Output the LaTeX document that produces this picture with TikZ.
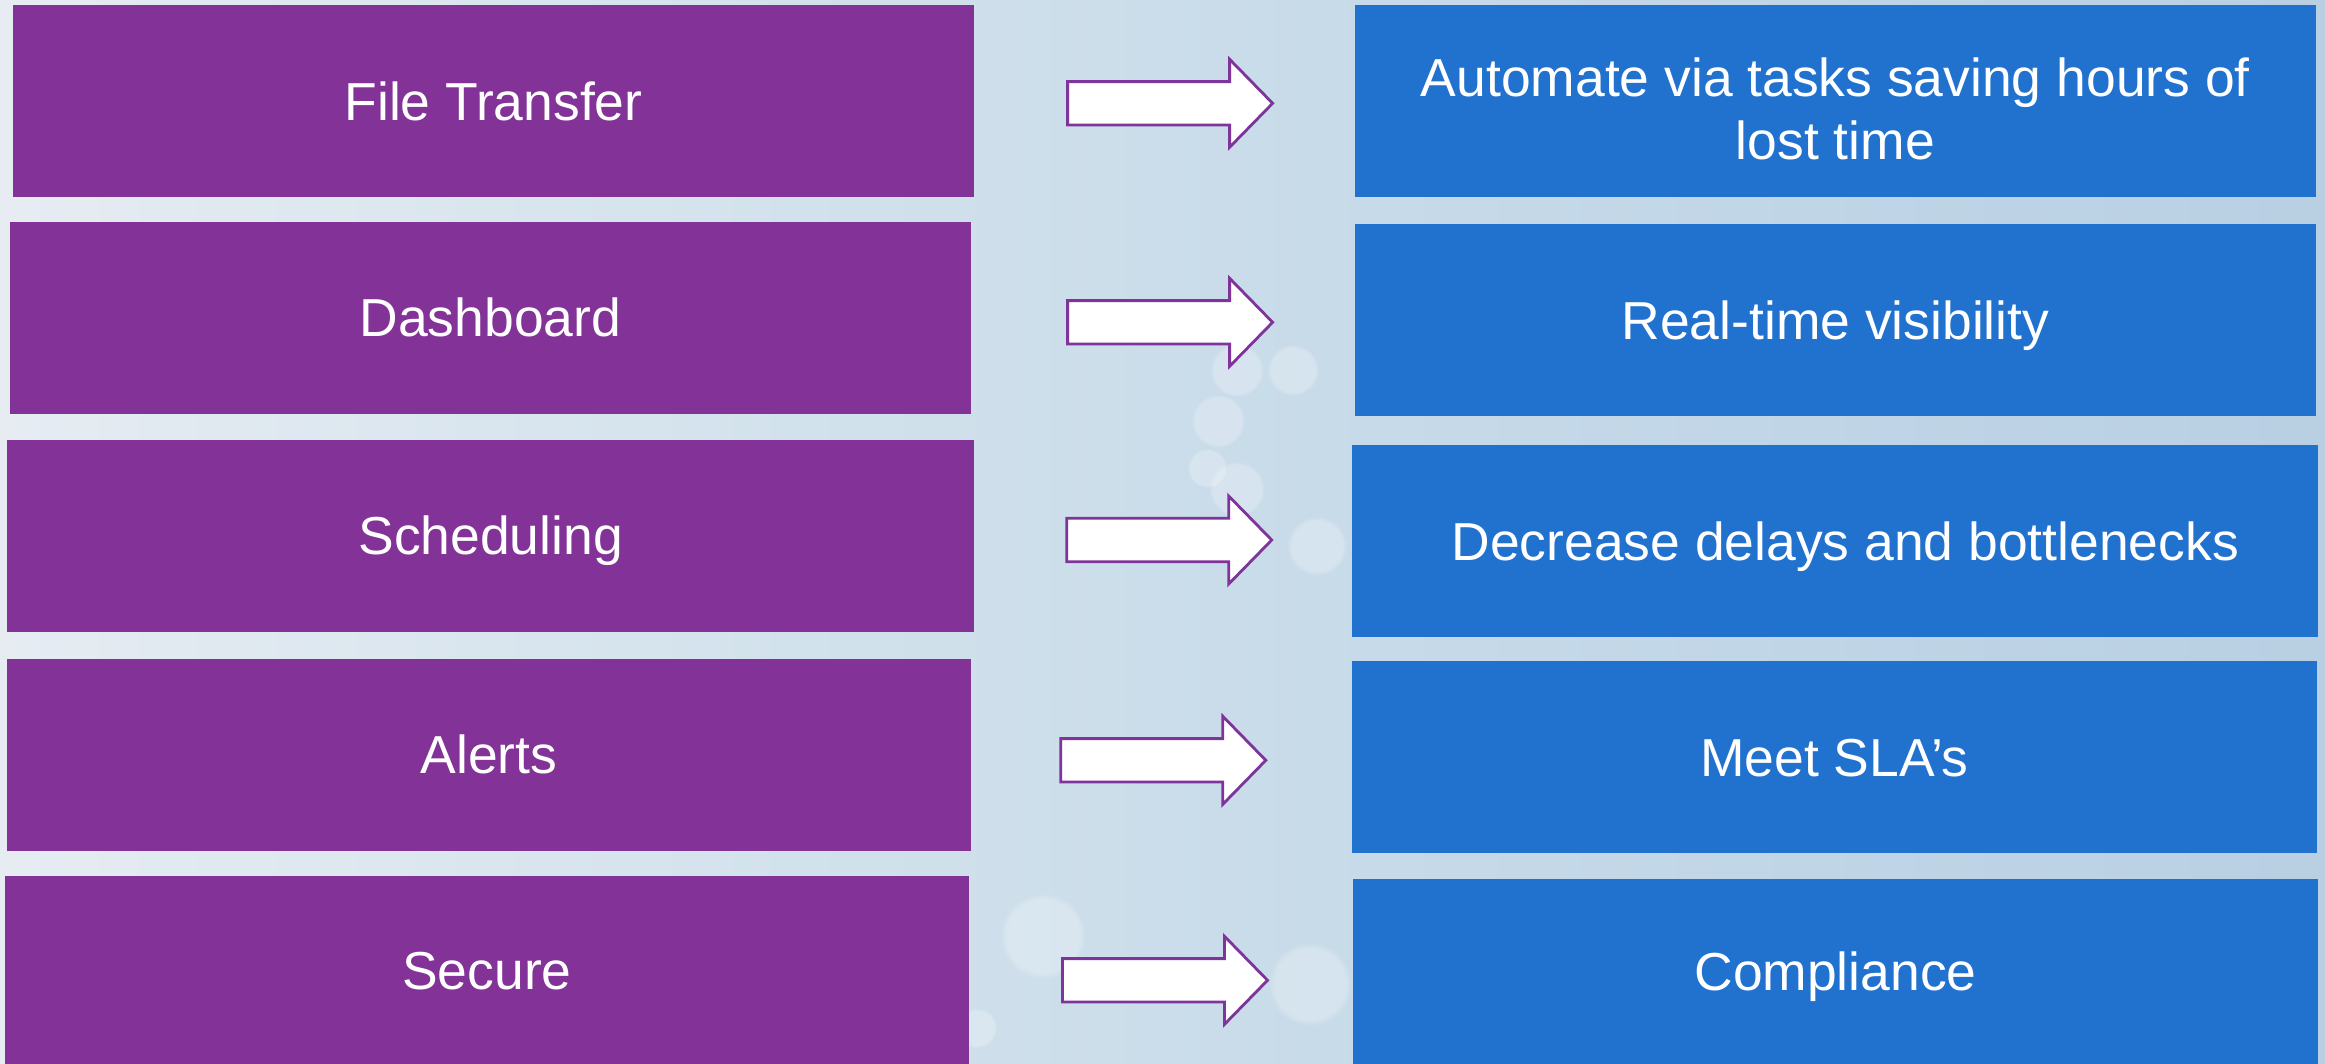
\documentclass[tikz,border=0pt]{standalone}
\usepackage{fontspec}
\setmainfont{Liberation Sans}
\usetikzlibrary{fadings}
\definecolor{boxpurple}{HTML}{833397}
\definecolor{boxblue}{HTML}{2172CF}
\definecolor{arrowline}{HTML}{7E349A}
\definecolor{bgA}{HTML}{F6F8FA}
\definecolor{bgB}{HTML}{E6ECF2}
\definecolor{bgC}{HTML}{D2E2EC}
\definecolor{bgD}{HTML}{C4D8E8}
\definecolor{bgE}{HTML}{A3C0DA}
\pgfdeclarehorizontalshading{bgshade}{100bp}{color(0bp)=(bgA); color(25bp)=(bgB); color(42bp)=(bgC); color(58bp)=(bgD); color(80bp)=(bgD!55!bgE); color(100bp)=(bgE)}
\tikzset{
  boxfont/.style={font=\fontsize{15.2pt}{18pt}\selectfont},
  pbox/.style={rectangle, fill=boxpurple, text=white, inner sep=0pt, outer sep=0pt, align=center, boxfont, text height=0.383cm, text depth=0pt},
  bbox/.style={rectangle, fill=boxblue, text=white, inner sep=0pt, outer sep=0pt, align=center, boxfont, text height=0.383cm, text depth=0pt},
  arrowstyle/.style={draw=arrowline, fill=white, line width=0.8pt, line join=miter},
  bokeh/.style={fill=white, fill opacity=0.25, path fading=circle with fuzzy edge 15 percent},
  blockarrow/.pic={\path[arrowstyle] (0,-21.7) -- (162,-21.7) -- (162,-44) -- (205,0) -- (162,44) -- (162,21.7) -- (0,21.7) -- cycle;}
}
\begin{document}
\begin{tikzpicture}[x=0.01cm,y=-0.01cm]
\useasboundingbox (0,0) rectangle (2325,1064);
% background
\path[shading=bgshade] (0,0) rectangle (2325,1064);
\path[bokeh] (1237,370) circle (27);
\path[bokeh] (1293,370) circle (26);
\path[bokeh] (1218,421) circle (27);
\path[bokeh] (1207,468) circle (20);
\path[bokeh] (1237,489) circle (28);
\path[bokeh] (1317,546) circle (30);
\path[bokeh] (1043,936) circle (43);
\path[bokeh] (1310,984) circle (42);
\path[bokeh] (977,1028) circle (20);
% left column
\node[pbox, minimum width=9.604cm, minimum height=1.92cm] (p1) at (493.5,101) {File Transfer};
\node[pbox, minimum width=9.61cm, minimum height=1.92cm] (p2) at (490.4,317.7) {Dashboard};
\node[pbox, minimum width=9.66cm, minimum height=1.917cm] (p3) at (490.7,535.8) {Scheduling};
\node[pbox, minimum width=9.64cm, minimum height=1.917cm] (p4) at (489,754.8) {Alerts};
\node[pbox, minimum width=9.639cm, minimum height=1.88cm] (p5) at (486.9,970) {Secure};
% right column
\node[bbox, minimum width=9.608cm, minimum height=1.92cm, text height=1.166cm, text depth=0pt] (b1) at (1835.3,101) {Automate via tasks saving hours of\\lost time};
\node[bbox, minimum width=9.61cm, minimum height=1.917cm] (b2) at (1835.5,319.9) {Real-time visibility};
\node[bbox, minimum width=9.656cm, minimum height=1.917cm] (b3) at (1835.2,540.9) {\hspace*{0.2cm}Decrease delays and bottlenecks};
\node[bbox, minimum width=9.641cm, minimum height=1.917cm] (b4) at (1834.5,756.9) {Meet SLA’s};
\node[bbox, minimum width=9.65cm, minimum height=1.85cm] (b5) at (1835.5,971.5) {Compliance};
% arrows
\coordinate (a1) at (1067.6,103.3);
\coordinate (a2) at (1067.6,322.3);
\coordinate (a3) at (1066.7,540);
\coordinate (a4) at (1060.8,760.3);
\coordinate (a5) at (1062.5,980.3);
\pic at (a1) {blockarrow};
\pic at (a2) {blockarrow};
\pic at (a3) {blockarrow};
\pic at (a4) {blockarrow};
\pic at (a5) {blockarrow};
\end{tikzpicture}
\end{document}
